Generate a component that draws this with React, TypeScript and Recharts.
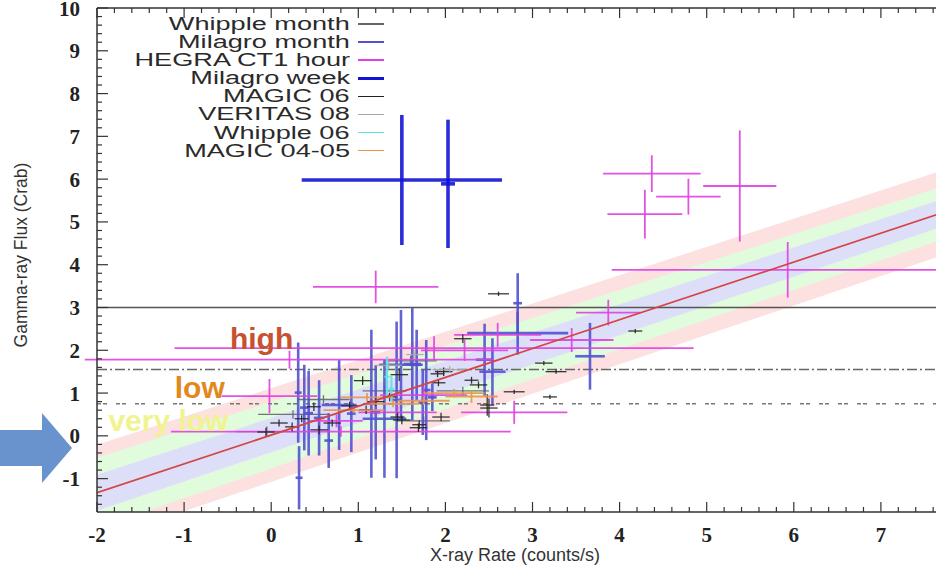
// App.tsx
import React from 'react';
import {
    ComposedChart,
    XAxis,
    YAxis,
    Scatter,
    ErrorBar,
    Area,
    Line,
    ReferenceLine,
    ReferenceDot,
    Legend,
} from 'recharts';

// each point: [x, y, x error, y error]
type Pt = [number, number, number, number];

const whippleMonth: Pt[] = [
    [0.25, 0.5, 0.4, 0.1],
    [-0.05, 0.1, 0.35, 0.12],
    [1.75, 0.35, 0.3, 0.1],
    [1.3, 1.05, 0.25, 0.12],
    [1.6, 1.75, 0.3, 0.12],
    [2.2, 1.05, 0.3, 0.1],
    [0.6, 0.85, 0.3, 0.1],
];

const milagroMonth: Pt[] = [
    [0.32, -0.98, 0.04, 0.74],
    [0.31, 1.01, 0.04, 1.17],
    [0.38, 0.66, 0.05, 1.0],
    [0.43, 0.53, 0.05, 0.99],
    [0.55, 0.42, 0.06, 0.88],
    [0.66, -0.11, 0.05, 0.64],
    [0.78, 0.72, 0.2, 1.05],
    [0.92, 0.52, 0.05, 0.9],
    [1.15, 0.75, 0.05, 1.73],
    [1.2, 0.55, 0.05, 1.1],
    [1.3, 0.4, 0.25, 1.38],
    [1.44, 0.84, 0.05, 1.83],
    [1.49, 1.66, 0.25, 1.28],
    [1.62, 1.68, 0.1, 1.32],
    [1.67, 1.66, 0.05, 0.82],
    [1.74, 0.78, 0.05, 0.76],
    [1.78, 1.07, 0.05, 1.17],
    [1.85, 0.9, 0.05, 0.32],
    [2.45, 1.78, 0.1, 0.84],
    [2.54, 1.5, 0.15, 0.78],
    [2.83, 3.1, 0.05, 0.7],
    [2.83, 2.4, 0.58, 0.5],
    [3.66, 1.86, 0.17, 0.78],
];

const hegraHour: Pt[] = [
    [1.2, 3.48, 0.72, 0.38],
    [4.37, 6.13, 0.56, 0.43],
    [4.29, 5.18, 0.43, 0.57],
    [4.79, 5.59, 0.37, 0.42],
    [5.38, 5.84, 0.42, 1.3],
    [5.93, 3.88, 2.02, 0.65],
    [1.87, 2.05, 2.98, 0.28],
    [0.21, 1.78, 2.35, 0.21],
    [-0.02, 0.93, 0.55, 0.4],
    [0.8, 0.1, 1.95, 0.12],
    [3.45, 2.24, 0.48, 0.28],
    [3.87, 2.88, 0.37, 0.3],
    [2.79, 0.55, 0.61, 0.27],
    [2.22, 2.0, 0.5, 0.25],
    [2.6, 2.36, 0.5, 0.28],
    [1.45, 0.55, 0.45, 0.15],
    [1.75, 0.95, 0.5, 0.2],
    [0.75, 0.35, 0.3, 0.15],
];

const milagroWeek: Pt[] = [
    [1.5, 5.98, 1.15, 1.52],
    [2.03, 5.89, 0.08, 1.5],
];

const magic06: Pt[] = [
    [2.61, 3.32, 0.12, 0.05],
    [4.18, 2.45, 0.08, 0.05],
    [3.13, 1.7, 0.1, 0.05],
    [3.27, 1.5, 0.12, 0.05],
    [2.79, 1.03, 0.12, 0.05],
    [3.2, 0.91, 0.08, 0.05],
    [2.5, 0.65, 0.1, 0.22],
    [2.2, 2.27, 0.1, 0.1],
    [2.3, 1.3, 0.08, 0.08],
    [2.38, 1.19, 0.1, 0.08],
    [1.98, 1.5, 0.1, 0.1],
    [1.92, 1.24, 0.08, 0.08],
    [1.5, 0.37, 0.1, 0.1],
    [1.69, 0.19, 0.1, 0.1],
    [2.48, 0.72, 0.08, 0.25],
    [1.05, 1.29, 0.1, 0.1],
    [1.47, 1.43, 0.1, 0.15],
    [1.91, 1.45, 0.08, 0.08],
    [1.7, 0.26, 0.08, 0.1],
    [1.95, 0.44, 0.1, 0.1],
    [0.09, 0.3, 0.1, 0.08],
    [0.24, 0.21, 0.08, 0.1],
    [0.49, 0.68, 0.08, 0.1],
    [0.55, 0.14, 0.1, 0.1],
    [-0.06, 0.09, 0.1, 0.1],
    [1.36, 0.91, 0.08, 0.1],
    [1.09, 0.61, 0.08, 0.1],
    [1.45, 0.44, 0.08, 0.1],
    [0.35, 0.4, 0.08, 0.08],
    [0.7, 0.3, 0.1, 0.08],
    [1.2, 0.8, 0.1, 0.1],
    [0.9, 0.7, 0.1, 0.1],
];

const veritas08: Pt[] = [
    [1.35, 1.65, 0.15, 0.08],
    [2.05, 1.55, 0.2, 0.08],
    [1.65, 1.9, 0.1, 0.1],
];

const whipple06: Pt[] = [
    [1.33, 1.38, 0.03, 0.47],
    [1.38, 1.1, 0.03, 0.3],
];

const magic0405: Pt[] = [
    [0.95, 0.6, 0.35, 0.06],
    [1.4, 0.75, 0.3, 0.08],
    [1.75, 0.82, 0.3, 0.1],
    [2.1, 1.0, 0.35, 0.1],
    [2.3, 0.92, 0.3, 0.15],
    [1.1, 0.9, 0.3, 0.1],
];

// linear fit and its bands, given at both ends of the x range
const fitX = [-2, 8];
const fitY = [-1.33, 5.41];
const innerLo = [-1.75, 5.09];
const innerHi = [-0.91, 5.73];
const midLo = [-2.15, 4.8];
const midHi = [-0.51, 6.02];
const outerLo = [-2.45, 4.42];
const outerHi = [-0.21, 6.4];

// flux levels
const highLevel = 3.0;
const lowLevel = 1.55;
const veryLowLevel = 0.75;

const X_DOMAIN: [number, number] = [-2, 8];
const Y_DOMAIN: [number, number] = [-1.78, 10];
const X_LAST_LABEL = 7;

// chart box
const CHART_W = 978;
const CHART_H = 571;
const MARGIN_TOP = 8;
const MARGIN_RIGHT = 10;
const Y_AXIS_W = 97;
const X_AXIS_H = 59;
const PLOT_W = CHART_W - Y_AXIS_W - MARGIN_RIGHT;

// every 0.2 gets a tick mark, the whole numbers get a long one and a label
const minorTicks = (from: number, to: number) => {
    const out: number[] = [];
    for (let v = Math.round(from * 5); v <= Math.round(to * 5); v++) out.push(v / 5);
    return out;
};
const X_TICKS = minorTicks(-2, 8);
const Y_TICKS = minorTicks(-1.6, 10);

const isMajor = (v: number) => Math.abs(v - Math.round(v)) < 1e-6;
const xPixel = (v: number) => Y_AXIS_W + ((v - X_DOMAIN[0]) / (X_DOMAIN[1] - X_DOMAIN[0])) * PLOT_W;

const fitData = fitX.map((x, i) => ({
    x,
    fit: fitY[i],
    inner: [innerLo[i], innerHi[i]],
    mid: [midLo[i], midHi[i]],
    outer: [outerLo[i], outerHi[i]],
}));

const SERIES = [
    { name: 'Whipple month', pts: whippleMonth, color: '#666666', width: 1.3, legendWidth: 1.2 },
    { name: 'Milagro month', pts: milagroMonth, color: '#5252cf', width: 2.6, legendWidth: 1.5 },
    { name: 'HEGRA CT1 hour', pts: hegraHour, color: '#e040e0', width: 1.8, legendWidth: 1.5 },
    { name: 'Milagro week', pts: milagroWeek, color: '#1414d4', width: 3.6, legendWidth: 3 },
    { name: 'MAGIC 06', pts: magic06, color: '#222222', width: 1.3, legendWidth: 1.5 },
    { name: 'VERITAS 08', pts: veritas08, color: '#a8a8a8', width: 1.3, legendWidth: 1.2 },
    { name: 'Whipple 06', pts: whipple06, color: '#5fe2e2', width: 2.2, legendWidth: 1.5 },
    { name: 'MAGIC 04-05', pts: magic0405, color: '#e8944f', width: 1.8, legendWidth: 1.5 },
];

const toRows = (pts: Pt[]) => pts.map(([x, y, ex, ey]) => ({ x, y, ex, ey }));

const noDot = () => <g />;

const serif = "'Liberation Serif', 'DejaVu Serif', serif";
const sans = "'Liberation Sans', Arial, sans-serif";
const tickColor = '#333';

const BottomTick = (props: any) => {
    const { x, y, payload } = props;
    const v = payload.value;
    const major = isMajor(v);
    return (
        <g>
            <line x1={x} x2={x} y1={y} y2={y - (major ? 10 : 5)} stroke={tickColor} strokeWidth={1.2} />
            {major && v <= X_LAST_LABEL && (
                <text x={x} y={y + 30} textAnchor="middle" fill="#222" fontSize={21} fontWeight={700} fontFamily={serif}>
                    {Math.round(v)}
                </text>
            )}
        </g>
    );
};

const LeftTick = (props: any) => {
    const { x, y, payload } = props;
    const v = payload.value;
    const major = isMajor(v);
    return (
        <g>
            <line x1={x} x2={x + (major ? 11 : 5)} y1={y} y2={y} stroke={tickColor} strokeWidth={1.2} />
            {major && (
                <text x={x - 17} y={y} dy="0.36em" textAnchor="end" fill="#222" fontSize={21} fontWeight={700} fontFamily={serif}>
                    {Math.round(v)}
                </text>
            )}
        </g>
    );
};

const renderLegend = () => (
    <div style={{ position: 'relative', width: 400, fontFamily: sans }}>
        {SERIES.map((s) => (
            <div key={s.name} style={{ position: 'relative', height: 18.1 }}>
                <span
                    style={{
                        position: 'absolute',
                        right: 50,
                        top: -1,
                        fontSize: 17.5,
                        lineHeight: '20px',
                        color: '#2a2a2a',
                        whiteSpace: 'nowrap',
                        transform: 'scaleX(1.55)',
                        transformOrigin: 'right center',
                    }}
                >
                    {s.name}
                </span>
                <span
                    style={{
                        position: 'absolute',
                        left: 358,
                        top: 9 - s.legendWidth / 2,
                        width: 26,
                        height: s.legendWidth,
                        background: s.color,
                    }}
                />
            </div>
        ))}
    </div>
);

export default function App() {
    return (
        <div
            style={{
                position: 'absolute',
                left: 0,
                top: 0,
                width: 936,
                height: 571,
                overflow: 'hidden',
                background: '#fff',
            }}
        >
            <ComposedChart width={CHART_W} height={CHART_H} margin={{ top: MARGIN_TOP, right: MARGIN_RIGHT, bottom: 0, left: 0 }}>
                <Area xAxisId="x" yAxisId="y" data={fitData} dataKey="outer" type="linear" stroke="none" fill="#fde1e1" fillOpacity={1} isAnimationActive={false} />
                <Area xAxisId="x" yAxisId="y" data={fitData} dataKey="mid" type="linear" stroke="none" fill="#e1fbdd" fillOpacity={1} isAnimationActive={false} />
                <Area xAxisId="x" yAxisId="y" data={fitData} dataKey="inner" type="linear" stroke="none" fill="#dddff9" fillOpacity={1} isAnimationActive={false} />

                <ReferenceLine xAxisId="x" yAxisId="y" y={highLevel} stroke="#555" strokeWidth={1.6} />
                <ReferenceLine xAxisId="x" yAxisId="y" y={lowLevel} stroke="#666" strokeWidth={1.4} strokeDasharray="10 3 2 3" />
                <ReferenceLine xAxisId="x" yAxisId="y" y={veryLowLevel} stroke="#777" strokeWidth={1.4} strokeDasharray="4 2 4 9" />

                {SERIES.map((s) => (
                    <Scatter
                        key={s.name}
                        name={s.name}
                        xAxisId="x"
                        yAxisId="y"
                        data={toRows(s.pts)}
                        dataKey="y"
                        shape={noDot}
                        isAnimationActive={false}
                    >
                        <ErrorBar dataKey="ey" direction="y" width={0} stroke={s.color} strokeWidth={s.width} strokeOpacity={0.9} isAnimationActive={false} />
                        <ErrorBar dataKey="ex" direction="x" width={0} stroke={s.color} strokeWidth={s.width} strokeOpacity={0.9} isAnimationActive={false} />
                    </Scatter>
                ))}

                <Line xAxisId="x" yAxisId="y" data={fitData} dataKey="fit" type="linear" stroke="#d64545" strokeWidth={1.7} dot={false} isAnimationActive={false} />

                <XAxis
                    xAxisId="x"
                    dataKey="x"
                    type="number"
                    domain={X_DOMAIN}
                    allowDataOverflow
                    ticks={X_TICKS}
                    interval={0}
                    tickLine={false}
                    tickSize={0}
                    tickMargin={0}
                    height={X_AXIS_H}
                    axisLine={{ stroke: '#333', strokeWidth: 1.5 }}
                    tick={BottomTick}
                />
                <YAxis
                    yAxisId="y"
                    type="number"
                    domain={Y_DOMAIN}
                    allowDataOverflow
                    ticks={Y_TICKS}
                    interval={0}
                    tickLine={false}
                    tickSize={0}
                    tickMargin={0}
                    width={Y_AXIS_W}
                    axisLine={{ stroke: '#333', strokeWidth: 1.5 }}
                    tick={LeftTick}
                />

                <ReferenceDot
                    xAxisId="x"
                    yAxisId="y"
                    x={-0.11}
                    y={2.29}
                    r={0}
                    fill="none"
                    stroke="none"
                    label={{ value: 'high', position: 'center', fill: '#c8522f', fontSize: 30, fontWeight: 700, fontFamily: sans }}
                />
                <ReferenceDot
                    xAxisId="x"
                    yAxisId="y"
                    x={-0.82}
                    y={1.13}
                    r={0}
                    fill="none"
                    stroke="none"
                    label={{ value: 'low', position: 'center', fill: '#e2881c', fontSize: 30, fontWeight: 700, fontFamily: sans }}
                />
                <ReferenceDot
                    xAxisId="x"
                    yAxisId="y"
                    x={-1.18}
                    y={0.36}
                    r={0}
                    fill="none"
                    stroke="none"
                    label={{ value: 'very low', position: 'center', fill: '#f1f391', fontSize: 30, fontWeight: 700, fontFamily: sans }}
                />

                <Legend
                    layout="vertical"
                    align="center"
                    verticalAlign="middle"
                    content={renderLegend}
                    wrapperStyle={{ position: 'absolute', left: 0, top: 15, width: 400, height: 150 }}
                />
            </ComposedChart>

            <svg
                width={936}
                height={571}
                style={{ position: 'absolute', left: 0, top: 0, pointerEvents: 'none' }}
            >
                {/* top edge of the frame, ticks pointing down */}
                <line x1={Y_AXIS_W} x2={CHART_W} y1={MARGIN_TOP} y2={MARGIN_TOP} stroke="#333" strokeWidth={1.5} />
                {X_TICKS.map((v) => (
                    <line
                        key={`top-${v}`}
                        x1={xPixel(v)}
                        x2={xPixel(v)}
                        y1={MARGIN_TOP}
                        y2={MARGIN_TOP + (isMajor(v) ? 10 : 5)}
                        stroke={tickColor}
                        strokeWidth={1.2}
                    />
                ))}
                <polygon points="0,430 42,430 42,413 72,448 42,483 42,466 0,466" fill="#6893cc" />
                <text x={515} y={CHART_H - 10} textAnchor="middle" fontFamily={sans} fontSize={18} fill="#333">
                    X-ray Rate (counts/s)
                </text>
                <text
                    x={22}
                    y={255}
                    textAnchor="middle"
                    fontFamily={sans}
                    fontSize={17.5}
                    fill="#333"
                    transform="rotate(-90 22 255)"
                    dominantBaseline="middle"
                >
                    Gamma-ray Flux (Crab)
                </text>
            </svg>
        </div>
    );
}
